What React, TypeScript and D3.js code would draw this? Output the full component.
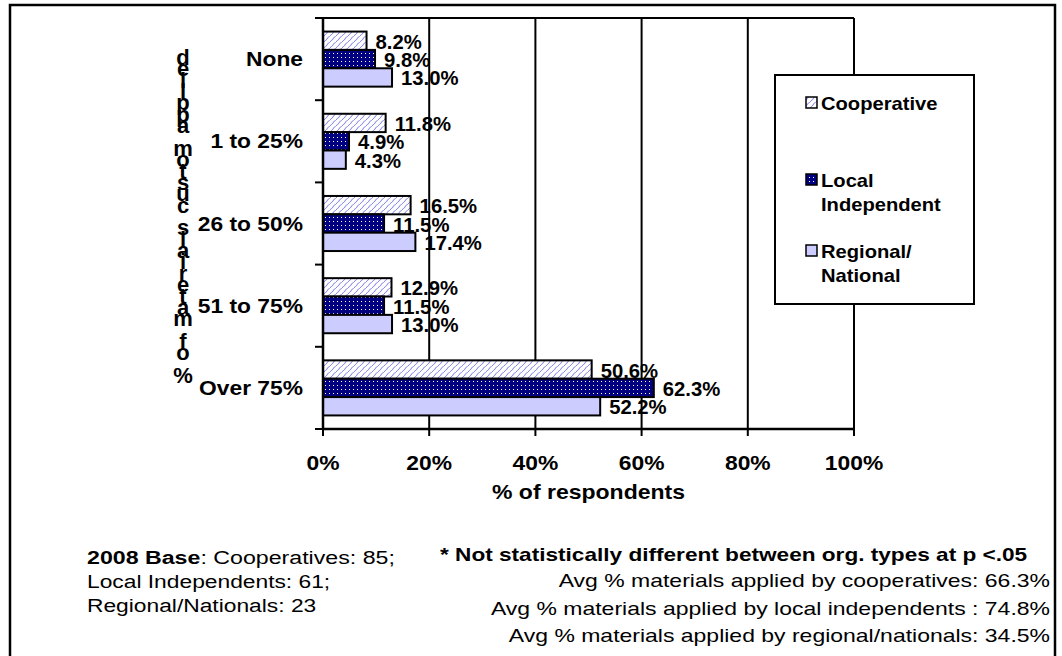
import React from "react";
import * as d3 from "d3";

const categories = ["None", "1 to 25%", "26 to 50%", "51 to 75%", "Over 75%"];
const seriesNames = ["Cooperative", "Local Independent", "Regional/National"];
const legendLines = [["Cooperative"], ["Local", "Independent"], ["Regional/", "National"]];
const cooperative = [8.2, 11.8, 16.5, 12.9, 50.6];
const localIndependent = [9.8, 4.9, 11.5, 11.5, 62.3];
const regionalNational = [13.0, 4.3, 17.4, 13.0, 52.2];
const xTicks = [0, 20, 40, 60, 80, 100];
const yTitle = "% of materials custom applied";
const xTitle = "% of respondents";
const baseLines = ["Local Independents: 61;", "Regional/Nationals: 23"];
const noteTitle = "* Not statistically different between org. types at p <.05";
const avgLines = [
  "Avg % materials applied by cooperatives: 66.3%",
  "Avg % materials applied by local independents : 74.8%",
  "Avg % materials applied by regional/nationals: 34.5%",
];

const FONT = "'Liberation Sans', Arial, Helvetica, sans-serif";
const fills = ["url(#pCoop)", "url(#pLocal)", "#ccccff"];

function T({ x, y, sx = 1.2, anchor = "start", size = 18, weight = "normal", children }: any) {
  return (
    <text
      transform={`translate(${x},${y}) scale(${sx},1)`}
      textAnchor={anchor}
      fontSize={size}
      fontWeight={weight}
      fontFamily={FONT}
      fill="#000"
    >
      {children}
    </text>
  );
}

export default function App() {
  const W = 1062, H = 656;
  const left = 323, right = 854, top = 18, bottom = 429;
  const x = d3.scaleLinear().domain([0, 100]).range([left, right]);
  const y = d3.scaleBand<string>().domain(categories).range([top, bottom]).paddingInner(0.33).paddingOuter(0.165);
  const ys = d3.scaleBand<number>().domain([0, 1, 2]).range([0, y.bandwidth()]);
  const series = [cooperative, localIndependent, regionalNational];
  const yTicks = d3.range(categories.length + 1).map((i) => top + (i * (bottom - top)) / categories.length);
  const titleChars = yTitle.split("").reverse();

  return (
    <svg width={W} height={H} style={{ position: "absolute", left: 0, top: 0, background: "#fff" }}>
      <defs>
        <pattern id="pCoop" patternUnits="userSpaceOnUse" width="6" height="6">
          <rect width="6" height="6" fill="#fff" />
          <path d="M0,6 C1,4 2.5,4.5 3,3 S5,0.5 6,0" stroke="#6060e0" strokeWidth="0.85" fill="none" />
        </pattern>
        <pattern id="pLocal" patternUnits="userSpaceOnUse" width="4" height="4">
          <rect width="4" height="4" fill="#000080" />
          <rect x="1" y="1" width="1" height="1" fill="#ffffff" />
        </pattern>
      </defs>
      <rect x={0} y={0} width={W} height={H} fill="#fff" />
      <rect x={10} y={5} width={1045} height={720} fill="none" stroke="#000" strokeWidth={2.5} />

      {/* gridlines */}
      {xTicks.slice(1).map((t) => (
        <line key={t} x1={x(t)} x2={x(t)} y1={top} y2={bottom} stroke="#000" strokeWidth={2} />
      ))}
      <line x1={left} x2={right} y1={top} y2={top} stroke="#000" strokeWidth={2} />

      {/* bars */}
      {categories.map((c, ci) =>
        series.map((s, si) => {
          const by = (y(c) as number) + (ys(si) as number);
          const bh = ys.bandwidth();
          return (
            <rect
              key={c + si}
              x={x(0)}
              y={by}
              width={x(s[ci]) - x(0)}
              height={bh}
              fill={fills[si]}
              stroke="#000"
              strokeWidth={2}
            />
          );
        })
      )}

      {/* value labels */}
      {categories.map((c, ci) =>
        series.map((s, si) => {
          const by = (y(c) as number) + (ys(si) as number) + ys.bandwidth() / 2;
          return (
            <T key={"l" + c + si} x={x(s[ci]) + 9} y={by + 8} size={19.5} weight="bold" sx={1.04}>
              {s[ci].toFixed(1) + "%"}
            </T>
          );
        })
      )}

      {/* axes */}
      <line x1={left} x2={left} y1={top} y2={bottom + 1} stroke="#000" strokeWidth={2.5} />
      <line x1={left - 1} x2={right + 1} y1={bottom} y2={bottom} stroke="#000" strokeWidth={2.5} />
      {yTicks.map((t, i) => (
        <line key={"yt" + i} x1={left - 8} x2={left} y1={t} y2={t} stroke="#000" strokeWidth={2} />
      ))}
      {xTicks.map((t) => (
        <line key={"xt" + t} x1={x(t)} x2={x(t)} y1={bottom} y2={bottom + 7} stroke="#000" strokeWidth={2} />
      ))}

      {/* category labels */}
      {categories.map((c) => (
        <T key={"c" + c} x={303} y={(y(c) as number) + y.bandwidth() / 2 + 7} size={20} weight="bold" anchor="end" sx={1.14}>
          {c}
        </T>
      ))}

      {/* x tick labels */}
      {xTicks.map((t) => (
        <T key={"xl" + t} x={x(t)} y={470} size={19.5} weight="bold" anchor="middle" sx={1.17}>
          {t + "%"}
        </T>
      ))}
      <T x={(left + right) / 2} y={499} size={19.5} weight="bold" anchor="middle" sx={1.18}>
        {xTitle}
      </T>

      {/* stacked y title */}
      {titleChars.map((ch, i) => (
        <T key={"yc" + i} x={183} y={65 + i * 11.36} size={22} weight="bold" anchor="middle" sx={1.0}>
          {ch}
        </T>
      ))}

      {/* legend */}
      <rect x={775} y={75} width={199} height={229} fill="#fff" stroke="#000" strokeWidth={2} />
      {seriesNames.map((n, i) => {
        const ly = [103, 180, 251][i];
        return (
          <g key={"lg" + n}>
            <rect x={806} y={ly - 6} width={11} height={11} fill={fills[i]} stroke="#000" strokeWidth={1.5} />
            {legendLines[i].map((ln, j) => (
              <T key={ln} x={821} y={ly + 7 + j * 24} size={18} weight="bold" sx={1.12}>
                {ln}
              </T>
            ))}
          </g>
        );
      })}

      {/* footnotes */}
      <text transform={`translate(87,564) scale(1.22,1)`} fontSize={19} fontFamily={FONT}>
        <tspan fontWeight="bold">2008 Base</tspan>
        <tspan>:  Cooperatives: 85;</tspan>
      </text>
      {baseLines.map((l, i) => (
        <T key={l} x={87} y={588 + i * 24} size={19} sx={1.2}>
          {l}
        </T>
      ))}
      <T x={440} y={561} size={19} weight="bold" sx={1.19}>
        {noteTitle}
      </T>
      {avgLines.map((l, i) => (
        <T key={l} x={1050} y={587 + i * 27.5} size={19} anchor="end" sx={1.21}>
          {l}
        </T>
      ))}
    </svg>
  );
}
